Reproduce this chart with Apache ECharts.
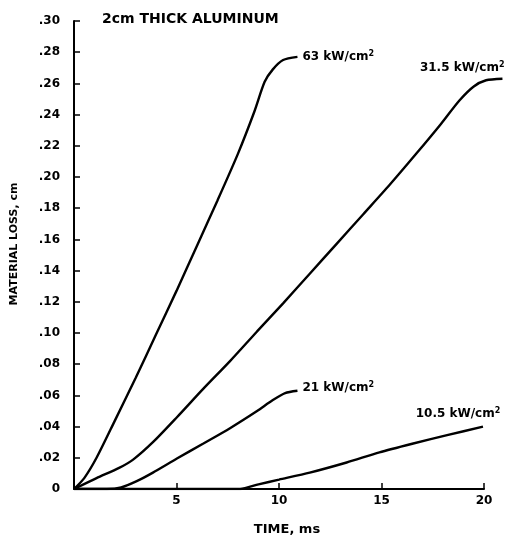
<!DOCTYPE html>
<html>
<head>
<meta charset="utf-8">
<script src="https://cdn.jsdelivr.net/npm/echarts@6/dist/echarts.min.js"></script>
<style>html,body{margin:0;padding:0;background:#fff;}#c{width:522px;height:538px;}</style>
</head>
<body>
<div id="c"></div>
<script>
// Time (ms) and material loss (cm)
var t63 = [0, 0.5, 1.1, 2.0, 3.0, 4.0, 5.0, 6.0, 7.0, 8.0, 8.8, 9.3, 9.7, 10.2, 10.9];
var y63 = [0, 0.007, 0.020, 0.044, 0.071, 0.099, 0.127, 0.156, 0.185, 0.215, 0.242, 0.261, 0.269, 0.275, 0.277];

var t31 = [0, 1.1, 2.2, 2.9, 3.85, 5.02, 6.29, 7.61, 8.93, 10.2, 11.5, 12.8, 14.1, 15.4, 16.7, 17.9, 18.8, 19.5, 20.1, 20.9];
var y31 = [0, 0.007, 0.0135, 0.019, 0.030, 0.046, 0.064, 0.082, 0.101, 0.119, 0.138, 0.157, 0.176, 0.195, 0.215, 0.234, 0.249, 0.258, 0.262, 0.263];

var t21 = [0, 1.6, 2.3, 3.06, 3.85, 5.02, 6.29, 7.61, 8.93, 9.7, 10.3, 10.9];
var y21 = [0, 0, 0.001, 0.005, 0.0105, 0.0195, 0.029, 0.039, 0.050, 0.057, 0.0615, 0.063];

var t10 = [0, 8.1, 9.0, 10.0, 11.5, 13.3, 14.9, 16.5, 18.2, 19.95];
var y10 = [0, 0, 0.003, 0.006, 0.0105, 0.017, 0.0235, 0.029, 0.0345, 0.040];

var seriesNames = ['63', '31.5', '21', '10.5'];
var xTicks = [0, 5, 10, 15, 20];
var yTickStep = 0.02;

function pairs(t, y) { return t.map(function (v, i) { return [v, y[i]]; }); }

var font = 'DejaVu Sans';
var rich = {
  a: { fontFamily: font, fontSize: 12, fontWeight: 'bold', color: '#000' },
  s: { fontFamily: font, fontSize: 8, fontWeight: 'bold', color: '#000', verticalAlign: 'top', padding: [0, 0, 6, 0] }
};
function lbl(name) { return '{a|' + name + ' kW/cm}{s|2}'; }

function mk(name, t, y, endLabel) {
  return {
    name: name, type: 'line', data: pairs(t, y), smooth: 0.25, symbol: 'none',
    xAxisIndex: 1, yAxisIndex: 1,
    lineStyle: { color: '#000', width: 2.4 },
    endLabel: Object.assign({ show: true, formatter: function () { return lbl(name); }, rich: rich }, endLabel)
  };
}

var G = { left: 74, top: 21, bottom: 49 };
var pxPerMs = (522 - 38 - 74) / 20;
var dataMaxT = 21;

var chart = echarts.init(document.getElementById('c'), null, { renderer: 'canvas' });
chart.setOption({
  animation: false,
  backgroundColor: '#fff',
  title: {
    text: '2cm THICK ALUMINUM', left: 97, top: 7,
    textStyle: { fontFamily: font, fontSize: 14, fontWeight: 'bold', color: '#000' }
  },
  grid: [
    { left: G.left, right: 38, top: G.top, bottom: G.bottom, containLabel: false, outerBoundsMode: 'none' },
    { left: G.left, right: 522 - G.left - pxPerMs * dataMaxT, top: G.top, bottom: G.bottom, containLabel: false, outerBoundsMode: 'none' }
  ],
  xAxis: [{
    gridIndex: 0,
    type: 'value', min: xTicks[0], max: xTicks[xTicks.length - 1], interval: xTicks[1] - xTicks[0],
    name: 'TIME, ms', nameLocation: 'middle', nameGap: 34,
    nameTextStyle: { fontFamily: font, fontSize: 13, fontWeight: 'bold', color: '#000', padding: [0, 0, 0, 16] },
    axisLine: { show: true, lineStyle: { color: '#000', width: 2 } },
    axisTick: { show: true, inside: true, length: 6, lineStyle: { color: '#000', width: 1.5 } },
    axisLabel: { margin: 6, fontFamily: font, fontSize: 12, fontWeight: 'bold', color: '#000',
      formatter: function (v) { return v === 0 ? '' : String(v); } },
    splitLine: { show: false }
  }, {
    gridIndex: 1, type: 'value', min: 0, max: dataMaxT, show: false, splitLine: { show: false }
  }],
  yAxis: [{
    gridIndex: 0,
    type: 'value', min: 0, max: 0.30, interval: yTickStep,
    name: 'MATERIAL LOSS, cm', nameLocation: 'middle', nameGap: 54,
    nameTextStyle: { fontFamily: font, fontSize: 11, fontWeight: 'bold', color: '#000', padding: [0, 0, 0, 22] },
    axisLine: { show: true, lineStyle: { color: '#000', width: 2 } },
    axisTick: { show: true, inside: true, length: 6, lineStyle: { color: '#000', width: 1.5 } },
    axisLabel: { margin: 14, fontFamily: font, fontSize: 12, fontWeight: 'bold', color: '#000',
      formatter: function (v) { return v === 0 ? '0' : v.toFixed(2).replace(/^0/, ''); } },
    splitLine: { show: false }
  }, {
    gridIndex: 1, type: 'value', min: 0, max: 0.30, show: false, splitLine: { show: false }
  }],
  series: [
    mk(seriesNames[0], t63, y63, { distance: 5, offset: [0, 0] }),
    mk(seriesNames[1], t31, y31, { distance: 0, align: 'right', offset: [2, -11] }),
    mk(seriesNames[2], t21, y21, { distance: 5, offset: [0, -3] }),
    mk(seriesNames[3], t10, y10, { distance: 0, align: 'center', offset: [-25, -13] })
  ]
});
</script>
</body>
</html>
